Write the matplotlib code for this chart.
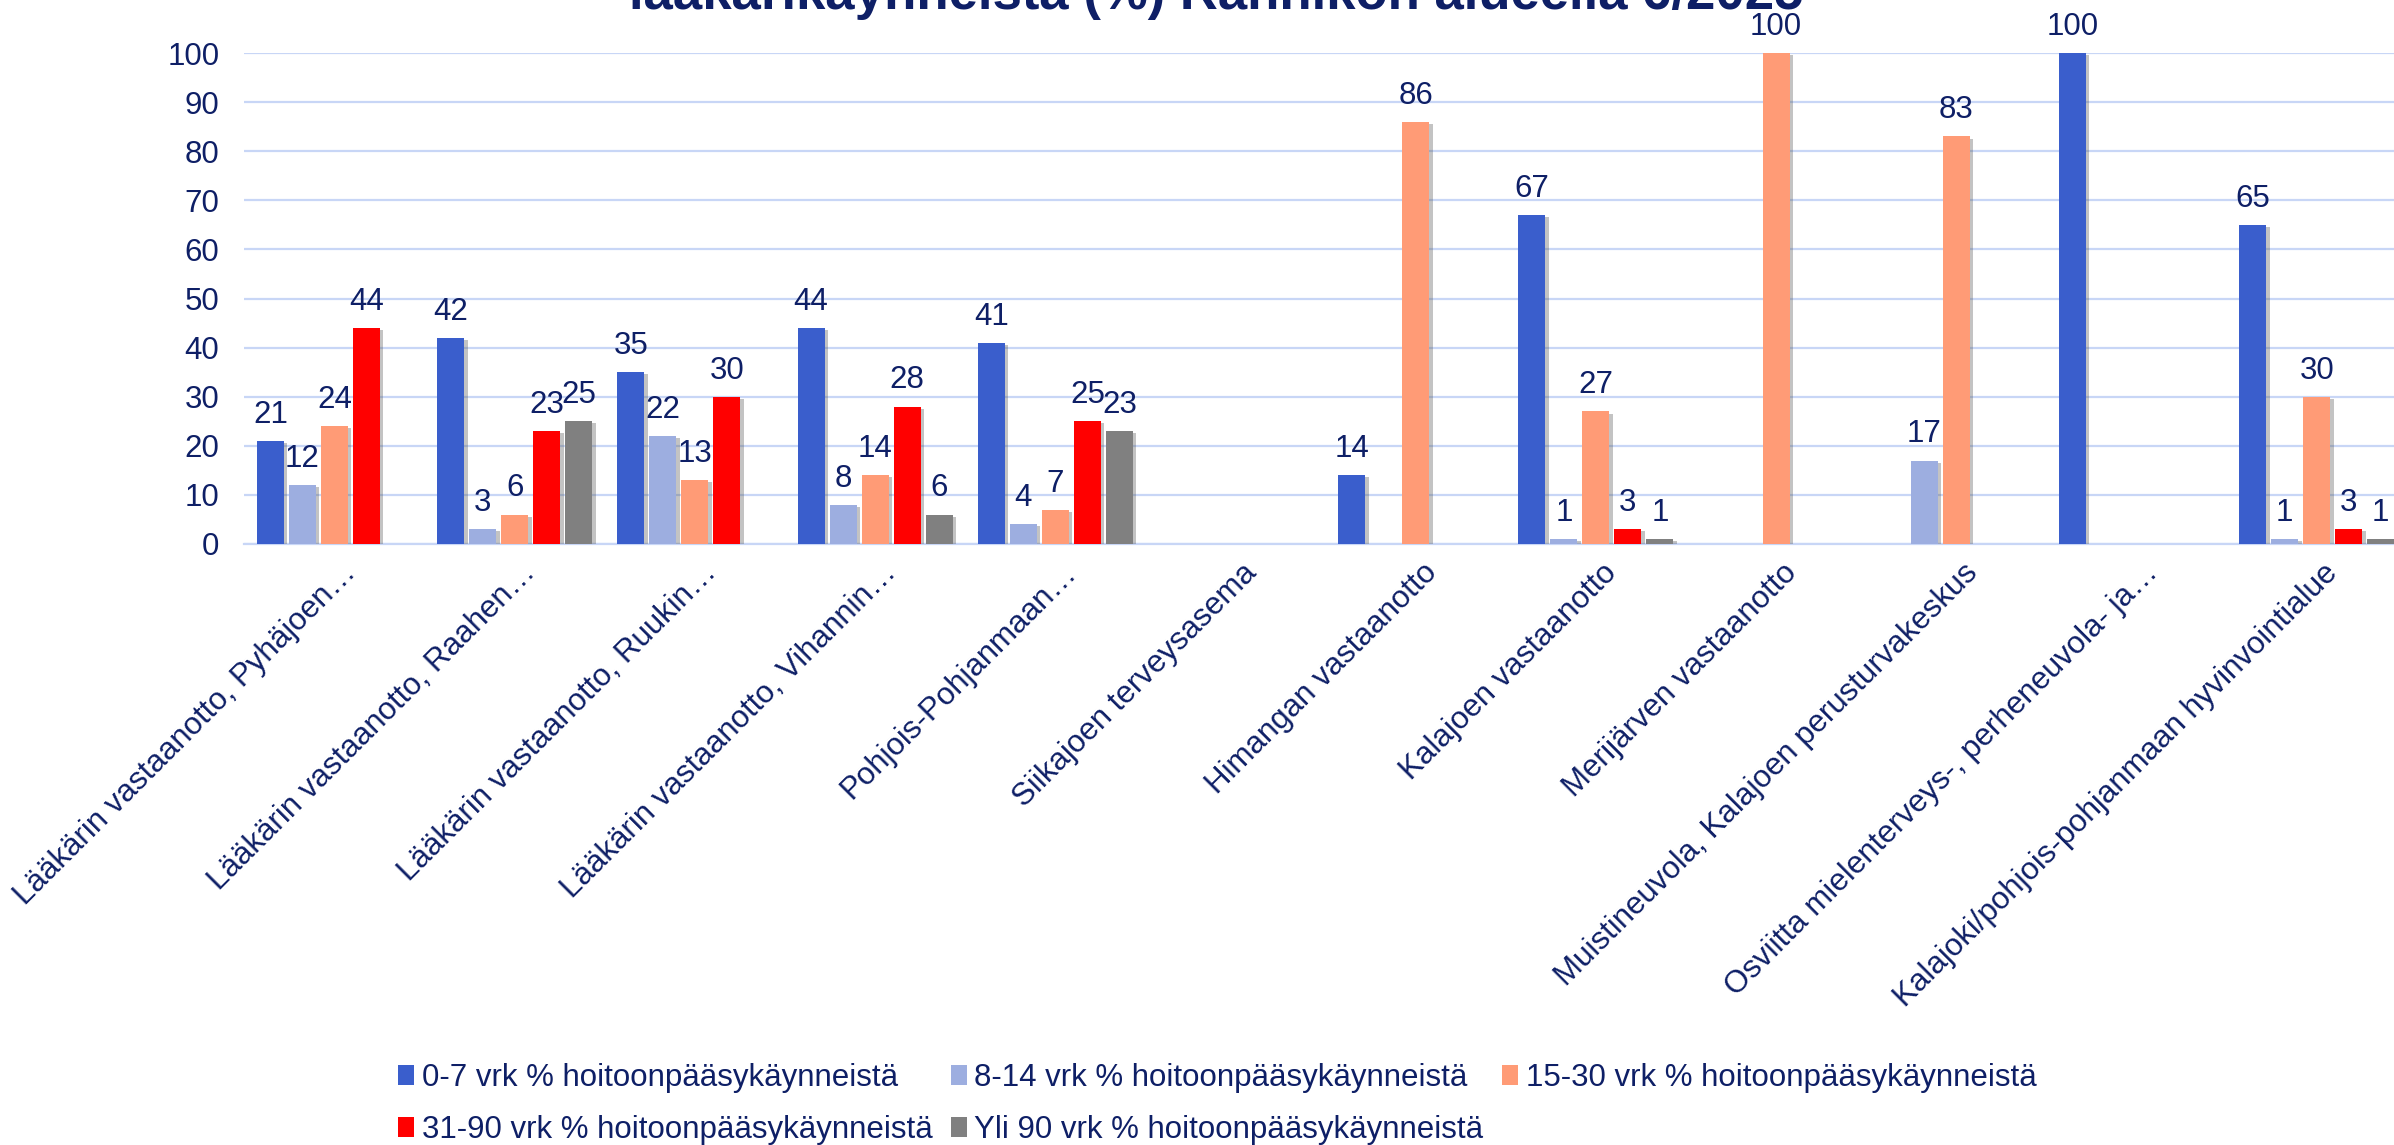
import numpy as np
import matplotlib
matplotlib.use("Agg")
import matplotlib.pyplot as plt
import matplotlib.patheffects as pe
from matplotlib.patches import Patch
from matplotlib.transforms import ScaledTranslation

plt.rcParams['font.family'] = ['Liberation Sans', 'DejaVu Sans']

title = "lääkärikäynneistä (%) Rannikon alueella 6/2025"

categories = [
    "Lääkärin vastaanotto, Pyhäjoen…",
    "Lääkärin vastaanotto, Raahen…",
    "Lääkärin vastaanotto, Ruukin…",
    "Lääkärin vastaanotto, Vihannin…",
    "Pohjois-Pohjanmaan…",
    "Siikajoen terveysasema",
    "Himangan vastaanotto",
    "Kalajoen vastaanotto",
    "Merijärven vastaanotto",
    "Muistineuvola, Kalajoen perusturvakeskus",
    "Osviitta mielenterveys-, perheneuvola- ja…",
    "Kalajoki/pohjois-pohjanmaan hyvinvointialue",
]

series_names = [
    "0-7 vrk % hoitoonpääsykäynneistä",
    "8-14 vrk % hoitoonpääsykäynneistä",
    "15-30 vrk % hoitoonpääsykäynneistä",
    "31-90 vrk % hoitoonpääsykäynneistä",
    "Yli 90 vrk % hoitoonpääsykäynneistä",
]

nan = np.nan
vrk_0_7 = [21, 42, 35, 44, 41, nan, 14, 67, nan, nan, 100, 65]
vrk_8_14 = [12, 3, 22, 8, 4, nan, nan, 1, nan, 17, nan, 1]
vrk_15_30 = [24, 6, 13, 14, 7, nan, 86, 27, 100, 83, nan, 30]
vrk_31_90 = [44, 23, 30, 28, 25, nan, nan, 3, nan, nan, nan, 3]
vrk_yli_90 = [nan, 25, nan, 6, 23, nan, nan, 1, nan, nan, nan, 1]

series = [vrk_0_7, vrk_8_14, vrk_15_30, vrk_31_90, vrk_yli_90]
colors = ["#3A5ECC", "#9DAEE0", "#FF9B76", "#FF0000", "#808080"]

navy = "#0E1F66"
grid_col = "#C8D6F6"

fig = plt.figure(figsize=(23.94, 11.45), dpi=100)
ax = fig.add_axes([0.1021, 0.5249, 1.00535 - 0.1021, 0.9537 - 0.5249])

x = np.arange(len(categories))
pitch = 0.1776
width = 0.1498
shadow = [pe.SimplePatchShadow(offset=(2.5, -1.5), shadow_rgbFace="#555555", alpha=0.35), pe.Normal()]

for i, (vals, col) in enumerate(zip(series, colors)):
    vals = np.array(vals, dtype=float)
    bars = ax.bar(x + (i - 2) * pitch, np.nan_to_num(vals), width, color=col, zorder=3)
    for b, v in zip(bars, vals):
        if np.isnan(v):
            b.set_visible(False)
            continue
        b.set_path_effects(shadow)
        ax.annotate(f"{v:.0f}", (b.get_x() + b.get_width() / 2, v), xytext=(0, 13),
                    textcoords="offset points", ha="center", va="baseline",
                    fontsize=22.5, color=navy, zorder=4, annotation_clip=False)

ax.set_xlim(-0.5, len(categories) - 0.5)
ax.set_ylim(0, 100)
ax.set_yticks(range(0, 101, 10))
ax.yaxis.grid(True, color=grid_col, linewidth=1.6, zorder=0)
ax.set_axisbelow(True)
for s in ["top", "right", "left"]:
    ax.spines[s].set_visible(False)
ax.spines["bottom"].set_color(grid_col)
ax.spines["bottom"].set_linewidth(1.6)
ax.tick_params(axis="both", length=0, labelsize=22.5, labelcolor=navy)
ax.tick_params(axis="y", pad=18)
ax.tick_params(axis="x", pad=10)
ax.set_xticks(x)
ax.set_xticklabels(categories)
shift = ScaledTranslation(0.06, 0, fig.dpi_scale_trans)
for lbl in ax.get_xticklabels():
    lbl.set_rotation(45)
    lbl.set_ha("right")
    lbl.set_va("top")
    lbl.set_rotation_mode("anchor")
    lbl.set_transform(lbl.get_transform() + shift)

fig.text(0.508, 0.9921, title, ha="center", va="baseline", fontsize=38,
         fontweight="bold", color=navy)

order = [0, 3, 1, 4, 2]
handles = [Patch(facecolor=colors[i]) for i in order]
labels = [series_names[i] for i in order]
leg = fig.legend(handles, labels, loc="upper left", bbox_to_anchor=(0.1663, 0.0716),
                 ncol=3, frameon=False, fontsize=22.5, handlelength=0.5, handleheight=0.6,
                 handletextpad=0.25, columnspacing=0.6, labelspacing=0.7,
                 borderpad=0, borderaxespad=0)
for t in leg.get_texts():
    t.set_color(navy)

fig.savefig("out.png", dpi=100)
